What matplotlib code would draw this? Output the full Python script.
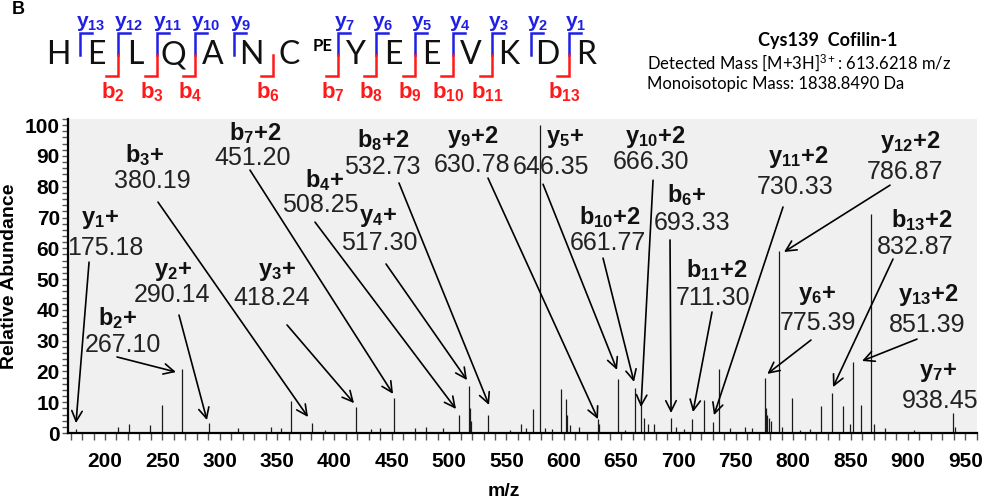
"""MS/MS spectrum of Cys139 Cofilin-1 peptide with annotated b/y ions"""

import matplotlib
matplotlib.use('Agg')
import matplotlib.pyplot as plt
from matplotlib.ticker import MultipleLocator

plt.rcParams['font.family'] = ['Liberation Sans', 'DejaVu Sans']
plt.rcParams['mathtext.fontset'] = 'custom'
plt.rcParams['mathtext.rm'] = 'Liberation Sans'
plt.rcParams['mathtext.bf'] = 'Liberation Sans:bold'
plt.rcParams['mathtext.it'] = 'Liberation Sans:italic'

# ---- spectrum (m/z, relative abundance) ----
peak_mz = [174.7, 211, 221, 239.5, 250, 267.1, 290.5, 316, 344.7, 353.5,
           362.5, 380.5, 392, 418.8, 432, 440, 452, 470, 480, 495,
           508.6, 517.3, 518.3, 519.5, 534, 553, 562.6, 567, 572.8, 579,
           583.6, 590, 597.5, 601.5, 603, 605.6, 613.3, 629.5, 631, 647,
           653, 662.5, 667, 670, 673, 678.6, 693.5, 697.8, 705, 711.8,
           722, 730, 735.3, 745, 758, 764, 775.4, 776.5, 777.5, 779,
           780.5, 787.3, 790, 799, 806, 815, 824.2, 833.8, 843.4, 849.5,
           852, 859, 868, 870, 880, 905, 939.3, 941]
peak_int = [1.2, 2, 3, 2.7, 9, 20.8, 3.3, 1.5, 2, 1.5,
            10.4, 3.3, 1.0, 8.4, 1.2, 1.5, 11.3, 1.5, 2, 1.5,
            5.8, 15.3, 8, 4, 5.8, 1, 3, 1.5, 7.8, 100,
            1.5, 1.2, 14.3, 11, 6, 2.5, 2, 4.5, 3, 17.5,
            1, 14.6, 9.5, 5, 3, 3, 4.9, 2, 1.2, 4.5,
            10.8, 3.7, 20.8, 1.5, 2, 1.5, 17.8, 8, 6, 5,
            4, 59, 2, 11.3, 1, 1.2, 8.8, 13, 8.8, 3,
            23, 9, 71, 3, 1.5, 1, 6.5, 2]

# ---- annotated fragment ions ----
ion_type = ['y', 'b', 'y', 'b', 'y', 'b', 'b', 'b', 'y', 'y', 'y',
            'y', 'b', 'b', 'b', 'y', 'y', 'b', 'y', 'y', 'y']
ion_num = [1, 2, 2, 3, 3, 7, 4, 8, 4, 9, 5,
           10, 10, 6, 11, 11, 12, 13, 6, 13, 7]
ion_charge = ['+', '+', '+', '+', '+', '+2', '+', '+2', '+', '+2', '+',
              '+2', '+2', '+', '+2', '+2', '+2', '+2', '+', '+2', '+']
ion_mz = [175.18, 267.10, 290.14, 380.19, 418.24, 451.20, 508.25, 532.73,
          517.30, 630.78, 646.35, 666.30, 661.77, 693.33, 711.30, 730.33,
          786.87, 832.87, 775.39, 851.39, 938.45]

# layout: label centre, number centre, arrow start, arrow tip (data coords)
label_xy = [(195.6, 69.2), (211.3, 37.3), (259.3, 52.3), (234.9, 90.3),
            (350.0, 52.3), (330.8, 97.4), (391.8, 82.1), (442.4, 95.1),
            (438.0, 70.1), (520.8, 96.1), (601.0, 95.8), (679.5, 96.1),
            (640.3, 70.1), (707.4, 77.3), (733.6, 52.9), (804.2, 89.6),
            (901.8, 94.5), (912.3, 69.2), (820.7, 44.8), (917.5, 44.8),
            (926.2, 19.5)]
number_xy = [(200.0, 60.1), (215.7, 28.6), (258.4, 44.8), (241.0, 81.8),
             (345.6, 43.8), (329.0, 89.3), (387.4, 74.0), (441.5, 86.4),
             (438.9, 61.7), (520.0, 87.0), (588.8, 86.4), (676.0, 88.0),
             (638.5, 61.7), (711.8, 68.2), (730.1, 43.8), (801.6, 79.9),
             (897.5, 84.7), (906.2, 60.4), (821.6, 35.7), (916.7, 35.1),
             (928.0, 10.4)]
arrow_from = [(186.1, 55.5), (210.5, 24.7), (264.5, 38.3), (246.2, 75.0),
              (358.7, 35.1), (326.4, 85.4), (383.1, 68.5), (456.3, 81.2),
              (445.0, 54.9), (533.9, 82.8), (581.9, 80.8), (677.8, 82.1),
              (634.2, 56.8), (692.6, 62.7), (729.2, 39.3), (791.1, 73.4),
              (884.4, 80.5), (887.0, 56.5), (815.5, 30.2), (907.9, 30.5),
              None]
arrow_to = [(174.7, 3.2), (261.9, 19.8), (288.9, 4.2), (377.0, 5.2),
            (417.1, 9.7), (451.1, 12.7), (506.0, 7.8), (534.8, 9.1),
            (515.6, 17.2), (629.8, 4.5), (646.4, 20.5), (667.3, 8.4),
            (661.2, 16.6), (693.5, 6.5), (712.6, 6.8), (730.9, 5.8),
            (792.0, 58.8), (834.7, 14.9), (777.4, 19.2), (860.0, 23.4),
            None]

x_ticks = [200, 250, 300, 350, 400, 450, 500, 550, 600, 650, 700, 750, 800, 850, 900, 950]
y_ticks = [0, 10, 20, 30, 40, 50, 60, 70, 80, 90, 100]

# ---- peptide sequence header ----
residues = ['H', 'E', 'L', 'Q', 'A', 'N', 'C', 'Y', 'E', 'E', 'V', 'K', 'D', 'R']
b_ions = [2, 3, 4, 6, 7, 8, 9, 10, 11, 13]
y_ions = [13, 12, 11, 10, 9, 7, 6, 5, 4, 3, 2, 1]
title_lines = ['Cys139  Cofilin-1',
               'Detected Mass [M+3H]$^{3+}$: 613.6218 m/z',
               'Monoisotopic Mass: 1838.8490 Da']

fig = plt.figure(figsize=(9.87, 5.01), dpi=100)
ax = fig.add_axes([0.0692, 0.1357, 0.9204, 0.6268])
ax.set_facecolor('#f0f0f0')

ax.vlines(peak_mz, 0, peak_int, color='#1a1a1a', lw=0.9)

ax.set_xlim(168, 960)
ax.set_ylim(0, 102)
for s in ['top', 'right']:
    ax.spines[s].set_visible(False)
for s in ['left', 'bottom']:
    ax.spines[s].set_linewidth(1.6)

ax.set_xticks(x_ticks)
ax.set_xticklabels([str(v) for v in x_ticks], fontweight='bold', fontsize=15)
ax.set_yticks(y_ticks)
ax.set_yticklabels([str(v) for v in y_ticks], fontweight='bold', fontsize=15)
ax.xaxis.set_minor_locator(MultipleLocator(10))
ax.yaxis.set_minor_locator(MultipleLocator(2))
ax.tick_params(axis='both', which='both', direction='out', color='#555555', width=1)
ax.tick_params(axis='x', which='both', length=5, pad=9)
ax.tick_params(axis='y', which='both', length=4, pad=2)

ax.set_ylabel('Relative Abundance', fontsize=14, fontweight='bold')
ax.yaxis.set_label_coords(-0.055, 0.5)
ax.set_xlabel('m/z', fontsize=14, fontweight='bold')
ax.xaxis.set_label_coords(0.48, -0.16)

# Подписи ионов со стрелками
for i in range(len(ion_mz)):
    label = r'$\mathbf{%s_{%d}}$%s' % (ion_type[i], ion_num[i], ion_charge[i])
    ax.text(label_xy[i][0], label_xy[i][1], label, ha='center', va='center',
            fontsize=17, fontweight='bold', color='#111111')
    ax.text(number_xy[i][0], number_xy[i][1], '%.2f' % ion_mz[i], ha='center',
            va='center', fontsize=18, color='#222222')
    if arrow_from[i] is not None:
        ax.annotate('', xy=arrow_to[i], xytext=arrow_from[i],
                    arrowprops=dict(arrowstyle='->,head_length=0.5,head_width=0.25',
                                    lw=1.2, color='black', shrinkA=0, shrinkB=0,
                                    mutation_scale=15))

# ---- header drawn in pixel coordinates ----
hax = fig.add_axes([0, 0, 1, 1])
hax.set_xlim(0, 987)
hax.set_ylim(501, 0)
hax.axis('off')
hax.patch.set_alpha(0)

hax.text(18, 1, 'B', ha='center', va='top', fontsize=13, fontweight='bold')

letter_x = []
x = 58
for i, r in enumerate(residues):
    letter_x.append(x)
    x += 65 if r == 'C' else 38.6
seq_y = 55
for r, lx in zip(residues, letter_x):
    hax.text(lx, seq_y, r, ha='center', va='center', fontsize=23,
             family=['Lato', 'DejaVu Sans'], color='#111111')
c_idx = residues.index('C')
hax.text(letter_x[c_idx] + 33, seq_y - 9, 'PE', ha='center', va='center',
         fontsize=12, fontweight='bold', family=['Lato', 'DejaVu Sans'])

top, mid, bot, tick = 33, 55, 76, 12
blue, red = '#1f1fe6', '#ff1a1a'
for i in range(1, len(residues)):
    xb = letter_x[i] - 17
    if (len(residues) - i) in y_ions:
        hax.plot([xb + tick, xb, xb], [top, top, mid], color=blue, lw=1.8,
                 solid_joinstyle='miter')
        hax.text(xb - 4, 23, r'$\mathbf{y_{%d}}$' % (len(residues) - i),
                 ha='left', va='center', fontsize=15, color=blue)
    if i in b_ions:
        hax.plot([xb, xb, xb - tick], [mid, bot, bot], color=red, lw=1.8,
                 solid_joinstyle='miter')
        hax.text(xb - 5, 92, r'$\mathbf{b_{%d}}$' % i, ha='center',
                 va='center', fontsize=16, color=red)

hax.text(828, 40, title_lines[0], ha='center', va='center', fontsize=13,
         fontweight='bold', family=['Lato', 'DejaVu Sans'])
hax.text(647, 63, title_lines[1], ha='left', va='center', fontsize=12,
         family=['Lato', 'DejaVu Sans'])
hax.text(647, 84, title_lines[2], ha='left', va='center', fontsize=12,
         family=['Lato', 'DejaVu Sans'])

fig.savefig('out.png', dpi=100)
